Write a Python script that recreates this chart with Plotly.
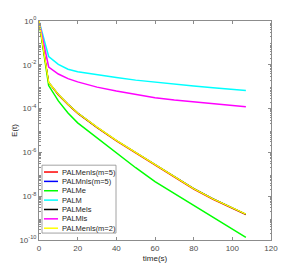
import plotly.graph_objects as go

# time axis samples (s)
t = [0, 5, 10, 15, 20, 30, 40, 50, 60, 70, 80, 90, 100, 107]

# log10 of E(t) per method
log_palm = [0, -1.62, -1.98, -2.2, -2.32, -2.46, -2.58, -2.7, -2.8, -2.89, -2.97, -3.05, -3.12, -3.17]
log_palmls = [0, -2.1, -2.42, -2.63, -2.78, -3.02, -3.2, -3.36, -3.5, -3.61, -3.7, -3.79, -3.86, -3.92]
log_palme = [0, -2.95, -3.65, -4.2, -4.65, -5.33, -6.0, -6.7, -7.33, -7.88, -8.4, -8.97, -9.53, -9.88]
log_palmenls2 = [0, -2.8, -3.35, -3.8, -4.2, -4.85, -5.45, -6.0, -6.58, -7.12, -7.65, -8.12, -8.55, -8.82]
log_palmenls5 = [0, -2.82, -3.38, -3.83, -4.23, -4.88, -5.48, -6.03, -6.61, -7.15, -7.68, -8.15, -8.58, -8.85]
log_palmnls5 = [0, -2.8, -3.35, -3.8, -4.2, -4.85, -5.45, -6.0, -6.58, -7.12, -7.65, -8.12, -8.55, -8.82]
log_palmels = [0, -2.8, -3.35, -3.8, -4.2, -4.85, -5.45, -6.0, -6.58, -7.12, -7.65, -8.12, -8.55, -8.82]

series = [
    ("PALMenls(m=5)", log_palmenls5, "#ff0000"),
    ("PALMnls(m=5)", log_palmnls5, "#0000ff"),
    ("PALMe", log_palme, "#00ff00"),
    ("PALM", log_palm, "#00ffff"),
    ("PALMels", log_palmels, "#000000"),
    ("PALMls", log_palmls, "#ff00ff"),
    ("PALMenls(m=2)", log_palmenls2, "#ffff00"),
]

x_ticks = [0, 20, 40, 60, 80, 100, 120]
y_exps = [0, -2, -4, -6, -8, -10]

FONT = "Liberation Sans, Arial, sans-serif"
axis_col = "#8c8c8c"
tick_font = dict(family=FONT, size=8, color="#4d4d4d")

# lines hidden under the yellow curve are drawn slightly thinner
hidden = {"PALMenls(m=5)", "PALMnls(m=5)", "PALMels"}

fig = go.Figure()
for name, vals, col in series:
    fig.add_trace(go.Scatter(
        x=t, y=[10 ** v for v in vals], mode="lines", name=name,
        line=dict(color=col, width=1.1 if name in hidden else 1.5), showlegend=False,
    ))

# compact legend (MATLAB style) built from shapes and annotations
W, H = 300, 273
ML, MR, MT, MB = 39, 29, 21, 31
pw, ph = W - ML - MR, H - MT - MB
def px_x(p):
    return (p - ML) / pw
def px_y(p):
    return (H - MB - p) / ph

shapes = [dict(type="rect", xref="paper", yref="paper",
               x0=px_x(42), x1=px_x(116), y0=px_y(235), y1=px_y(166.5),
               line=dict(color="#8c8c8c", width=0.8), fillcolor="white", layer="above")]
annotations = []
row0, row_gap = 173.4, 9.45
for i, (name, vals, col) in enumerate(series):
    yc = row0 + i * row_gap
    shapes.append(dict(type="line", xref="paper", yref="paper",
                       x0=px_x(44), x1=px_x(58), y0=px_y(yc), y1=px_y(yc),
                       line=dict(color=col, width=1.5), layer="above"))
    annotations.append(dict(text=name, xref="paper", yref="paper",
                            x=px_x(59.5), y=px_y(yc), xanchor="left", yanchor="middle",
                            showarrow=False, font=dict(family=FONT, size=7.5, color="#262626")))

minor_vals = [m * 10 ** e for e in range(-10, 0) for m in range(2, 10)]

fig.update_layout(
    width=W, height=H,
    margin=dict(l=ML, r=MR, t=MT, b=MB),
    paper_bgcolor="white", plot_bgcolor="white",
    shapes=shapes, annotations=annotations,
    xaxis=dict(
        range=[0, 120], tickvals=x_ticks, ticktext=[str(v) for v in x_ticks],
        ticks="inside", ticklen=3, tickcolor=axis_col, showline=True, linecolor=axis_col,
        linewidth=1, mirror="ticks", showgrid=False, zeroline=False, tickfont=tick_font,
        title=dict(text="time(s)", font=dict(family=FONT, size=8, color="#262626"), standoff=3),
    ),
    yaxis=dict(
        type="log", range=[-10, 0],
        tickvals=[10 ** e for e in y_exps],
        ticktext=["10<sup>%d</sup>" % e for e in y_exps],
        ticks="inside", ticklen=3, tickcolor=axis_col, showline=True, linecolor=axis_col,
        linewidth=1, mirror="ticks", showgrid=False, zeroline=False, tickfont=tick_font,
        minor=dict(tickvals=minor_vals, ticks="inside", ticklen=1.5, tickcolor=axis_col, showgrid=False),
        title=dict(text="E(t)", font=dict(family=FONT, size=8, color="#262626"), standoff=0),
    ),
)

fig.write_html(
    "out.html",
    config={"displayModeBar": False},
    post_script="document.body.style.margin='0';document.body.style.overflow='hidden';",
)
